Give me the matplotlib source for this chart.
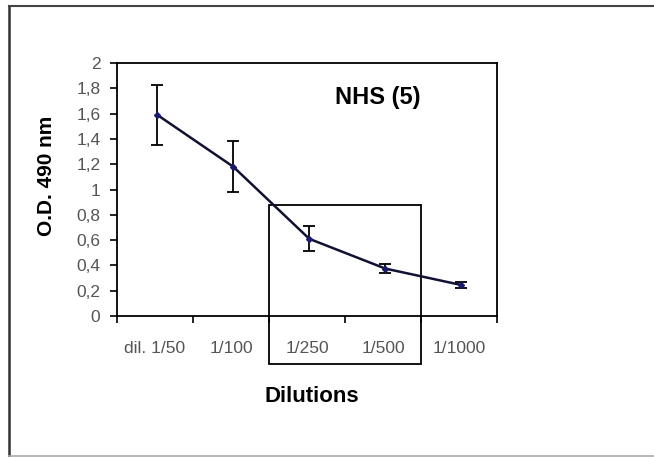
import matplotlib.pyplot as plt
from matplotlib.patches import Rectangle
from matplotlib.lines import Line2D
from matplotlib.ticker import FuncFormatter

plt.rcParams['font.family'] = ['Liberation Sans', 'DejaVu Sans']

dilutions = ['dil. 1/50', '1/100', '1/250', '1/500', '1/1000']
od_values = [1.59, 1.18, 0.61, 0.375, 0.245]
od_errors = [0.235, 0.2, 0.1, 0.035, 0.022]

fig = plt.figure(figsize=(6.54, 4.57), dpi=100)
ax = fig.add_axes([117 / 654, 1 - 316 / 457, 380 / 654, 253 / 457])

x = [i + 0.03 for i in range(len(dilutions))]
ax.errorbar(x, od_values, yerr=od_errors, color='#111133', ecolor='black',
            elinewidth=1.3, capsize=4, capthick=1.3, lw=1.8,
            marker='D', markersize=3, markerfacecolor='#1a1a6e',
            markeredgecolor='#1a1a6e')

ax.set_xlim(-0.5, len(dilutions) - 0.5)
ax.set_ylim(0, 2)
ax.set_yticks([i * 0.2 for i in range(11)])
ax.yaxis.set_major_formatter(FuncFormatter(lambda v, p: ('%g' % round(v, 1)).replace('.', ',')))
ax.set_xticks([i - 0.5 for i in range(len(dilutions) + 1)])
ax.set_xticklabels([])
ax.set_xticks(range(len(dilutions)), minor=True)
ax.set_xticklabels(dilutions, minor=True)
ax.tick_params(axis='x', which='major', direction='out', length=5, width=1.2)
ax.tick_params(axis='x', which='minor', length=0, pad=18, labelsize=12.5, labelcolor='#555555')
ax.tick_params(axis='y', direction='out', length=5, width=1.2, pad=7, labelsize=12.5, labelcolor='#555555')
for s in ax.spines.values():
    s.set_linewidth(1.3)

ax.text(2.93, 1.73, 'NHS (5)', fontsize=17, fontweight='bold', ha='center', va='center')

# highlight box around the 1/250 - 1/500 part
box_bottom = (316 - 364) / 253
trans = ax.get_xaxis_transform()
ax.add_patch(Rectangle((1.5, box_bottom), 2.0, 0.879 / 2 - box_bottom,
                       transform=trans, fill=False, lw=1.3, ec='black', clip_on=False))

fig.text(312 / 654, 1 - 396 / 457, 'Dilutions', fontsize=16, fontweight='bold',
         ha='center', va='center')
fig.text(47 / 654, 1 - 176 / 457, 'O.D. 490 nm', fontsize=15, fontweight='bold',
         rotation=90, ha='center', va='center')

# outer frame
fig.add_artist(Line2D([8.5 / 654, 8.5 / 654], [0, 1 - 5.5 / 457], transform=fig.transFigure, color='#333333', lw=1.8))
fig.add_artist(Line2D([8.5 / 654, 1], [1 - 5.5 / 457, 1 - 5.5 / 457], transform=fig.transFigure, color='#444444', lw=1.5))
fig.add_artist(Line2D([8.5 / 654, 1], [1 / 457, 1 / 457], transform=fig.transFigure, color='#aaaaaa', lw=1.2))

fig.savefig('out.png', dpi=100)
